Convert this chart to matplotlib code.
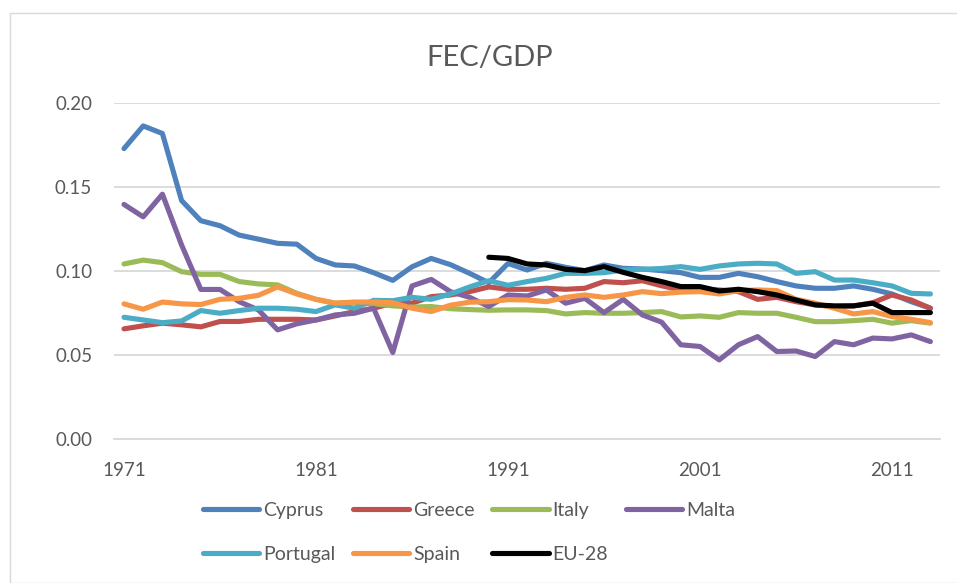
import matplotlib
matplotlib.use("Agg")
import matplotlib.pyplot as plt
from matplotlib.patches import Rectangle
import numpy as np

plt.rcParams['font.family'] = ['Lato', 'DejaVu Sans']

years = list(range(1971, 2014))
tick_years = [1971, 1981, 1991, 2001, 2011]
yticks = [0.00, 0.05, 0.10, 0.15, 0.20]

cyprus = [0.173, 0.1865, 0.182, 0.142, 0.130, 0.127, 0.1214, 0.119, 0.1165, 0.116,
          0.1075, 0.1036, 0.103, 0.099, 0.0944, 0.1025, 0.1075, 0.1038, 0.0986, 0.093,
          0.1045, 0.1006, 0.1046, 0.1022, 0.1002, 0.1036, 0.1016, 0.1012, 0.1002, 0.099,
          0.0962, 0.0962, 0.0986, 0.0966, 0.0937, 0.0911, 0.0897, 0.0897, 0.0911, 0.0891,
          0.0863, 0.0817, 0.0778]
greece = [0.0655, 0.0673, 0.0689, 0.0679, 0.0667, 0.0699, 0.0699, 0.0712, 0.0712, 0.0712,
          0.0708, 0.0732, 0.0758, 0.0778, 0.0808, 0.0808, 0.0847, 0.0857, 0.0877, 0.0905,
          0.0891, 0.0891, 0.0897, 0.0891, 0.0897, 0.0937, 0.093, 0.0942, 0.0912, 0.0887,
          0.0891, 0.0887, 0.0877, 0.0831, 0.0843, 0.0817, 0.0798, 0.0788, 0.0792, 0.0811,
          0.0857, 0.0827, 0.0778]
italy = [0.1042, 0.1065, 0.105, 0.0996, 0.098, 0.098, 0.0937, 0.0923, 0.0917, 0.0867,
         0.0831, 0.0808, 0.0811, 0.0805, 0.0792, 0.0785, 0.0788, 0.0775, 0.077, 0.0766,
         0.0768, 0.0768, 0.0764, 0.0744, 0.0752, 0.0748, 0.0748, 0.0752, 0.0758, 0.0726,
         0.0732, 0.0724, 0.0752, 0.0748, 0.0748, 0.0724, 0.0698, 0.0698, 0.0704, 0.0712,
         0.0689, 0.0704, 0.0689]
malta = [0.1397, 0.1323, 0.1458, 0.1155, 0.089, 0.089, 0.0817, 0.0768, 0.0649, 0.0685,
         0.0708, 0.0738, 0.0748, 0.0778, 0.0514, 0.0911, 0.095, 0.0877, 0.0843, 0.0788,
         0.0857, 0.0851, 0.0887, 0.0808, 0.0837, 0.0752, 0.0831, 0.0738, 0.0695, 0.056,
         0.055, 0.047, 0.056, 0.0609, 0.052, 0.0523, 0.049, 0.0579, 0.056, 0.060,
         0.0595, 0.0619, 0.0579]
portugal = [0.0724, 0.0708, 0.0692, 0.0702, 0.0764, 0.0748, 0.0764, 0.0778, 0.0778, 0.0772,
            0.0758, 0.0798, 0.0778, 0.0825, 0.0823, 0.0843, 0.0831, 0.0863, 0.0905, 0.0942,
            0.0915, 0.0937, 0.0956, 0.0986, 0.0986, 0.099, 0.1006, 0.101, 0.1015, 0.1026,
            0.101, 0.103, 0.1042, 0.1046, 0.1042, 0.0986, 0.0996, 0.0946, 0.0946, 0.093,
            0.0911, 0.0867, 0.0863]
spain = [0.0804, 0.0772, 0.0815, 0.0804, 0.080, 0.0831, 0.0837, 0.0855, 0.0905, 0.0863,
         0.0831, 0.0808, 0.0815, 0.0815, 0.0811, 0.0778, 0.0758, 0.0796, 0.0814, 0.0817,
         0.0829, 0.0827, 0.0817, 0.0843, 0.0857, 0.0843, 0.0857, 0.0877, 0.0865, 0.0874,
         0.0877, 0.0863, 0.0883, 0.0887, 0.0883, 0.0831, 0.0808, 0.0778, 0.0744, 0.0758,
         0.0728, 0.0712, 0.0692]
eu28 = [None] * 19 + [0.1082, 0.1075, 0.1042, 0.1036, 0.101, 0.1002, 0.1026, 0.0992, 0.0962,
                      0.0937, 0.0907, 0.0907, 0.0881, 0.0891, 0.0877, 0.0857, 0.0827, 0.0798,
                      0.0792, 0.0792, 0.0808, 0.0752, 0.0752, 0.0752]

series_names = ["Cyprus", "Greece", "Italy", "Malta", "Portugal", "Spain", "EU-28"]
series_values = [cyprus, greece, italy, malta, portugal, spain, eu28]
colors = ["#4F81BD", "#C0504D", "#9BBB59", "#8064A2", "#4BACC6", "#F79646", "#000000"]

W, H = 957, 583
fig = plt.figure(figsize=(W / 100, H / 100), dpi=100)
fig.patch.set_facecolor("white")

# outer chart border
fig.add_artist(Rectangle((10 / W, 0), 1.0, 1 - 13 / H, transform=fig.transFigure,
                         fill=False, edgecolor="#D9D9D9", linewidth=1.0))

left, right = 114.4 / W, 940 / W
bottom, top = 1 - 438.7 / H, 1 - 103.3 / H
ax = fig.add_axes([left, bottom, right - left, top - bottom])

x = np.arange(len(years))
lines = {}
for name, vals, c in zip(series_names, series_values, colors):
    y = np.array([np.nan if v is None else v for v in vals], dtype=float)
    ln, = ax.plot(x, y, color=c, lw=3.7, solid_capstyle="round",
                  solid_joinstyle="round", label=name)
    lines[name] = ln

ax.set_xlim(-0.5, len(years) - 0.5)
ax.set_ylim(0, 0.20)
ax.set_yticks(yticks)
ax.set_yticklabels([f"{v:.2f}" for v in yticks])
ax.set_xticks([years.index(t) for t in tick_years])
ax.set_xticklabels([str(t) for t in tick_years])
ax.grid(axis="y", color="#D9D9D9", lw=1.3)
ax.set_axisbelow(True)
for s in ["top", "right", "left"]:
    ax.spines[s].set_visible(False)
ax.spines["bottom"].set_color("#D9D9D9")
ax.spines["bottom"].set_linewidth(1.3)
ax.tick_params(axis="both", length=0, labelsize=13.5, labelcolor="#595959")
ax.tick_params(axis="y", pad=16)
ax.tick_params(axis="x", pad=17)

fig.text(490 / W, 1 - 58 / H, "FEC/GDP", ha="center", va="center",
         fontsize=21, color="#595959")

# legend filled row-wise (matplotlib fills column-wise)
order = ["Cyprus", "Portugal", "Greece", "Spain", "Italy", "EU-28", "Malta"]
leg = fig.legend([lines[n] for n in order], order, loc="upper left",
                 bbox_to_anchor=(203 / W, 1 - 502 / H), ncol=4, frameon=False,
                 fontsize=14, handlelength=2.9, handletextpad=0.2,
                 columnspacing=0.9, labelspacing=1.4, borderpad=0, borderaxespad=0)
for t in leg.get_texts():
    t.set_color("#595959")

fig.savefig("out.png", dpi=100, facecolor="white")
